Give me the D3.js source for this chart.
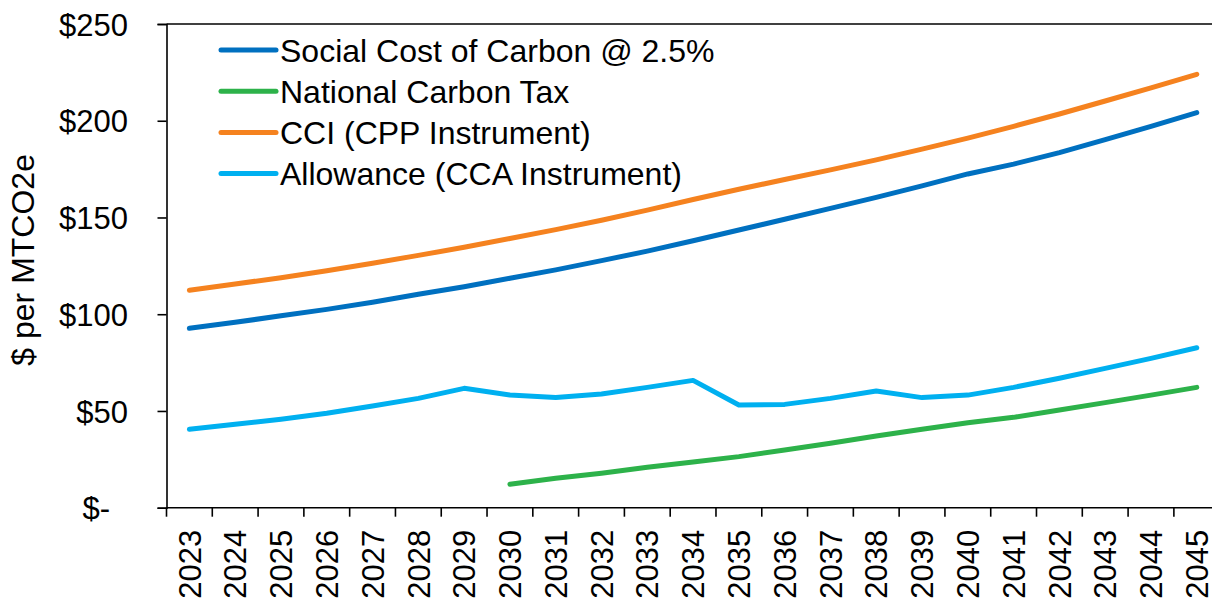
<!DOCTYPE html>
<html>
<head>
<meta charset="utf-8">
<script src="https://cdn.jsdelivr.net/npm/d3@7/dist/d3.min.js"></script>
<style>
  html, body { margin: 0; padding: 0; background: #fff; overflow: hidden; }
  svg { display: block; font-family: "Liberation Sans", Arial, sans-serif; }
</style>
</head>
<body>
<svg id="chart" width="1212" height="598"></svg>
<script>
// Carbon price trajectories, $ per metric ton CO2e
const years = ["2023","2024","2025","2026","2027","2028","2029","2030","2031","2032","2033","2034",
               "2035","2036","2037","2038","2039","2040","2041","2042","2043","2044","2045"];

const socialCostCarbon = [92.7, 95.8, 99.2, 102.5, 106.2, 110.3, 114.2, 118.6, 122.9, 127.7, 132.6, 138.0,
                          143.5, 149.1, 154.7, 160.4, 166.3, 172.5, 177.6, 183.5, 190.2, 197.1, 204.2];

const nationalCarbonTax = [null, null, null, null, null, null, null, 12.1, 15.2, 17.8, 20.9, 23.6,
                           26.4, 29.8, 33.3, 37.1, 40.5, 43.9, 46.7, 50.5, 54.3, 58.2, 62.2];

const cciCpp = [112.4, 115.6, 118.9, 122.5, 126.3, 130.4, 134.6, 139.1, 143.7, 148.6, 153.8, 159.3,
                164.6, 169.6, 174.6, 179.8, 185.3, 191.0, 197.1, 203.5, 210.2, 217.0, 224.0];

const allowanceCca = [40.5, 43.1, 45.7, 48.8, 52.6, 56.5, 61.7, 58.2, 57.0, 58.8, 62.2, 65.8,
                      53.1, 53.4, 56.5, 60.3, 56.9, 58.2, 62.2, 66.9, 72.0, 77.2, 82.7];

const yTicks = [0, 50, 100, 150, 200, 250];

const seriesNames = ["Social Cost of Carbon @ 2.5%", "National Carbon Tax", "CCI (CPP Instrument)", "Allowance (CCA Instrument)"];
const seriesValues = [socialCostCarbon, nationalCarbonTax, cciCpp, allowanceCca];
const seriesColors = ["#0070C0", "#2DB24A", "#F5821F", "#00B0F0"];

const svg = d3.select("#chart");
const tickFont = 31;
const legendFont = 32;

const plotLeft = 166.5, plotTop = 24, plotBottom = 507.7, step = 45.79;
const x = d3.scaleBand().domain(years).range([plotLeft, plotLeft + step * years.length]).padding(0);
const y = d3.scaleLinear().domain([0, 250]).range([plotBottom, plotTop]);

// plot area top border
svg.append("line")
  .attr("x1", plotLeft).attr("x2", x.range()[1])
  .attr("y1", y(250)).attr("y2", y(250))
  .attr("stroke", "#000").attr("stroke-width", 1.6);

// y axis
const yAxis = svg.append("g")
  .attr("transform", `translate(${plotLeft},0)`)
  .call(d3.axisLeft(y).tickValues(yTicks).tickSize(9).tickPadding(29.5)
    .tickFormat(d => d === 0 ? "$-" : "$" + d));
yAxis.select(".domain").attr("stroke", "#000").attr("stroke-width", 1.6);
yAxis.selectAll(".tick line").attr("stroke", "#000").attr("stroke-width", 1.6);
yAxis.selectAll(".tick text")
  .attr("font-size", tickFont).attr("fill", "#000").attr("dy", "0.36em")
  .attr("font-family", "Liberation Sans, Arial, sans-serif")
  .filter(d => d === 0).attr("x", -56.5);

// x axis: baseline, tick marks between categories, rotated year labels
const xg = svg.append("g");
xg.append("line")
  .attr("x1", plotLeft).attr("x2", x.range()[1])
  .attr("y1", y(0)).attr("y2", y(0))
  .attr("stroke", "#000").attr("stroke-width", 1.6);
const edges = years.map(d => x(d)).concat([x.range()[1]]);
xg.selectAll("line.xtick").data(edges).join("line")
  .attr("class", "xtick")
  .attr("x1", d => d).attr("x2", d => d)
  .attr("y1", y(0)).attr("y2", y(0) + 9)
  .attr("stroke", "#000").attr("stroke-width", 1.6);
xg.selectAll("text.xlabel").data(years).join("text")
  .attr("class", "xlabel")
  .attr("transform", d => `translate(${x(d) + x.bandwidth() / 2},${y(0) + 22}) rotate(-90)`)
  .attr("text-anchor", "end")
  .attr("dy", "0.36em")
  .attr("font-size", tickFont)
  .attr("fill", "#000")
  .text(d => d);

// y axis title
svg.append("text")
  .attr("transform", `translate(34,${(plotTop + plotBottom) / 2 - 6}) rotate(-90)`)
  .attr("text-anchor", "middle")
  .attr("font-size", legendFont)
  .attr("fill", "#000")
  .text("$ per MTCO2e");

// series lines
const line = d3.line()
  .defined(d => d.v != null)
  .x(d => x(d.year) + x.bandwidth() / 2)
  .y(d => y(d.v));

seriesValues.forEach((vals, i) => {
  const pts = years.map((yr, j) => ({ year: yr, v: vals[j] }));
  svg.append("path")
    .datum(pts)
    .attr("fill", "none")
    .attr("stroke", seriesColors[i])
    .attr("stroke-width", 5)
    .attr("stroke-linecap", "round")
    .attr("stroke-linejoin", "round")
    .attr("d", line);
});

// legend
const legend = svg.append("g");
const rowY = [50, 91.2, 132.4, 173.6];
seriesNames.forEach((name, i) => {
  legend.append("line")
    .attr("x1", 221).attr("x2", 276)
    .attr("y1", rowY[i]).attr("y2", rowY[i])
    .attr("stroke", seriesColors[i])
    .attr("stroke-width", 5)
    .attr("stroke-linecap", "round");
  legend.append("text")
    .attr("x", 280).attr("y", rowY[i])
    .attr("dy", "0.36em")
    .attr("font-size", legendFont)
    .attr("fill", "#000")
    .text(name);
});
</script>
</body>
</html>
